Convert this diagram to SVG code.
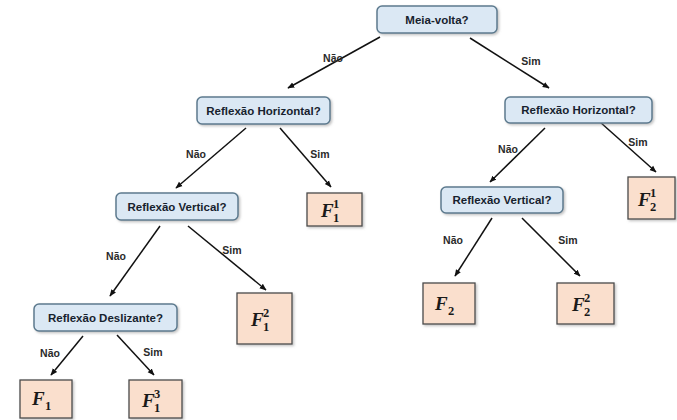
<svg xmlns="http://www.w3.org/2000/svg" width="677" height="420" viewBox="0 0 677 420">
<defs>
<filter id="sh" x="-10%" y="-20%" width="130%" height="160%">
<feDropShadow dx="1.5" dy="1.5" stdDeviation="1" flood-color="#888" flood-opacity="0.5"/>
</filter>
<marker id="ah" viewBox="0 0 10 10" refX="9" refY="5" markerWidth="7" markerHeight="7" orient="auto" markerUnits="userSpaceOnUse">
<path d="M0,1 L10,5 L0,9 z" fill="#111"/>
</marker>
<style>
.q rect{fill:#dbe8f4;stroke:#5c7a8e;stroke-width:1.5;filter:url(#sh)}
.q text{font-family:"Liberation Sans",Arial,sans-serif;font-weight:bold;font-size:11.5px;fill:#17222e;text-anchor:middle}
.f rect{fill:#fadfcd;stroke:#4a4a4a;stroke-width:1.3;filter:url(#sh)}
.f text{font-family:"Liberation Serif","Times New Roman",serif;font-weight:bold;fill:#1a1a1a}
.f .F{font-style:italic;font-size:19px}
.f .d{font-size:12.5px}
.lbl{font-family:"Liberation Sans",Arial,sans-serif;font-weight:bold;font-size:10.5px;fill:#2a2a2a;text-anchor:middle}
#connectors line{stroke:#111;stroke-width:1.5;marker-end:url(#ah)}
</style>
</defs>
<rect width="677" height="420" fill="#fff"/>
<g id="connectors">
<line x1="380" y1="37" x2="288" y2="88"/>
<line x1="470" y1="38" x2="549" y2="88"/>
<line x1="246" y1="128" x2="176" y2="188"/>
<line x1="280" y1="128" x2="331" y2="187"/>
<line x1="160" y1="226" x2="110" y2="296"/>
<line x1="188" y1="226" x2="266" y2="290"/>
<line x1="83" y1="336" x2="51" y2="375"/>
<line x1="117" y1="335" x2="154" y2="375"/>
<line x1="545" y1="128" x2="490" y2="182"/>
<line x1="600" y1="122" x2="656" y2="172"/>
<line x1="492" y1="218" x2="455" y2="276"/>
<line x1="522" y1="218" x2="580" y2="276"/>
<text class="lbl" x="333" y="62">Não</text>
<text class="lbl" x="531" y="65">Sim</text>
<text class="lbl" x="196" y="158">Não</text>
<text class="lbl" x="320" y="158">Sim</text>
<text class="lbl" x="116" y="260">Não</text>
<text class="lbl" x="232" y="254">Sim</text>
<text class="lbl" x="50" y="357">Não</text>
<text class="lbl" x="153" y="356">Sim</text>
<text class="lbl" x="508" y="153">Não</text>
<text class="lbl" x="638" y="146">Sim</text>
<text class="lbl" x="453" y="244">Não</text>
<text class="lbl" x="568" y="244">Sim</text>
</g>
<g id="n-meia" class="q"><rect x="377" y="6" width="120" height="27" rx="5"/><text x="437" y="23.5">Meia-volta?</text></g>
<g id="n-rh1" class="q"><rect x="197" y="97" width="133" height="27" rx="5"/><text x="263.5" y="114.5">Reflexão Horizontal?</text></g>
<g id="n-rh2" class="q"><rect x="505" y="97" width="147" height="26" rx="5"/><text x="578.5" y="114">Reflexão Horizontal?</text></g>
<g id="n-rv1" class="q"><rect x="116" y="193" width="122" height="27" rx="5"/><text x="177" y="210.5">Reflexão Vertical?</text></g>
<g id="n-rv2" class="q"><rect x="441" y="187" width="122" height="26" rx="5"/><text x="502" y="204">Reflexão Vertical?</text></g>
<g id="n-rd" class="q"><rect x="34" y="304" width="143" height="27" rx="5"/><text x="105.5" y="321.5">Reflexão Deslizante?</text></g>
<g id="n-f11" class="f"><rect x="307" y="193" width="55" height="33"/><text class="F" x="321" y="217">F</text><text class="d" x="333" y="208">1</text><text class="d" x="333" y="222">1</text></g>
<g id="n-f12" class="f"><rect x="237" y="293" width="55" height="51"/><text class="F" x="251" y="326">F</text><text class="d" x="263" y="317">2</text><text class="d" x="263" y="331">1</text></g>
<g id="n-f13" class="f"><rect x="129" y="380" width="53" height="38"/><text class="F" x="142" y="407">F</text><text class="d" x="154" y="398">3</text><text class="d" x="154" y="412">1</text></g>
<g id="n-f1" class="f"><rect x="20" y="380" width="52" height="38"/><text class="F" x="32" y="405">F</text><text class="d" x="45" y="410">1</text></g>
<g id="n-f2" class="f"><rect x="423" y="283" width="52" height="41"/><text class="F" x="435" y="310">F</text><text class="d" x="448" y="315">2</text></g>
<g id="n-f22" class="f"><rect x="557" y="283" width="57" height="41"/><text class="F" x="572" y="311">F</text><text class="d" x="584" y="302">2</text><text class="d" x="584" y="316">2</text></g>
<g id="n-f21" class="f"><rect x="628" y="177" width="47" height="42"/><text class="F" x="638" y="206">F</text><text class="d" x="650" y="197">1</text><text class="d" x="650" y="211">2</text></g>
</svg>
